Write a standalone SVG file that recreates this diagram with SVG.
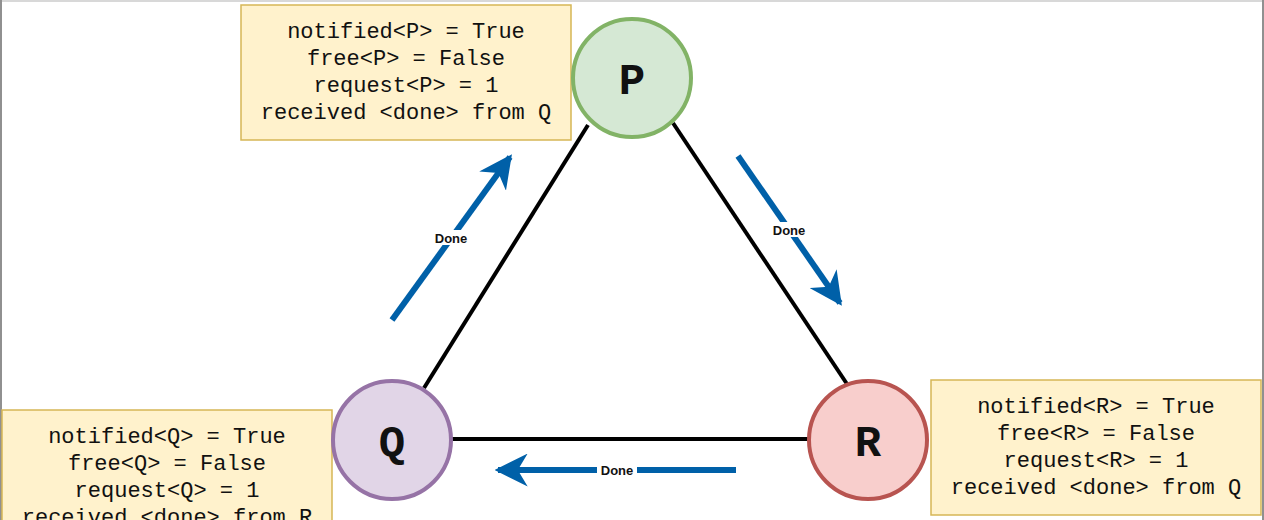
<svg xmlns="http://www.w3.org/2000/svg" width="1264" height="520" viewBox="0 0 1264 520">
<defs>
<style>
.box{fill:#fff2cc;stroke:#d6b656;stroke-width:1.5}
.bt{font-family:"Liberation Mono","Courier New",monospace;font-size:22px;fill:#111;text-anchor:middle}
.nl{font-family:"Liberation Mono","Courier New",monospace;font-size:44px;font-weight:bold;fill:#111;text-anchor:middle}
.edge{stroke:#000;stroke-width:4;fill:none}
.flow{stroke:#0060a8;stroke-width:6;fill:none}
.lbl{font-family:"Liberation Sans",Arial,sans-serif;font-size:13px;font-weight:bold;fill:#111;text-anchor:middle}
</style>
<marker id="ah" viewBox="0 0 10 10" refX="9" refY="5" markerWidth="5.5" markerHeight="5.5" markerUnits="strokeWidth" orient="auto">
<path d="M0,0 L10,5 L0,10 L3,5 Z" fill="#0060a8"/>
</marker>
</defs>
<rect x="0" y="0" width="1264" height="520" fill="#fff"/>
<line x1="0" y1="1" x2="1264" y2="1" stroke="#d8d8d8" stroke-width="2"/>
<line x1="1" y1="0" x2="1" y2="520" stroke="#909090" stroke-width="2"/>
<line x1="1263" y1="0" x2="1263" y2="520" stroke="#909090" stroke-width="2"/>

<g id="connectors">
<line class="edge" x1="588" y1="125" x2="424" y2="388"/>
<line class="edge" x1="673" y1="123" x2="847" y2="384"/>
<line class="edge" x1="452" y1="439" x2="808" y2="439"/>
<line class="flow" x1="392" y1="320" x2="510" y2="157" marker-end="url(#ah)"/>
<line class="flow" x1="738" y1="156" x2="840" y2="303" marker-end="url(#ah)"/>
<line class="flow" x1="736" y1="470" x2="498" y2="470" marker-end="url(#ah)"/>
<rect x="430" y="230" width="42" height="15" fill="#fff"/>
<text class="lbl" x="451" y="243">Done</text>
<rect x="768" y="222" width="42" height="15" fill="#fff"/>
<text class="lbl" x="789" y="235">Done</text>
<rect x="597" y="463" width="40" height="14" fill="#fff"/>
<text class="lbl" x="617" y="475">Done</text>
</g>

<g id="boxP">
<rect class="box" x="241" y="5" width="330" height="135"/>
<text class="bt" x="406" y="38">notified&lt;P&gt; = True</text>
<text class="bt" x="406" y="65">free&lt;P&gt; = False</text>
<text class="bt" x="406" y="92">request&lt;P&gt; = 1</text>
<text class="bt" x="406" y="119">received &lt;done&gt; from Q</text>
</g>
<g id="boxQ">
<rect class="box" x="2" y="410" width="330" height="135"/>
<text class="bt" x="167" y="443">notified&lt;Q&gt; = True</text>
<text class="bt" x="167" y="470">free&lt;Q&gt; = False</text>
<text class="bt" x="167" y="497">request&lt;Q&gt; = 1</text>
<text class="bt" x="167" y="524">received &lt;done&gt; from R</text>
</g>
<g id="boxR">
<rect class="box" x="931" y="380" width="330" height="135"/>
<text class="bt" x="1096" y="413">notified&lt;R&gt; = True</text>
<text class="bt" x="1096" y="440">free&lt;R&gt; = False</text>
<text class="bt" x="1096" y="467">request&lt;R&gt; = 1</text>
<text class="bt" x="1096" y="494">received &lt;done&gt; from Q</text>
</g>

<g id="nodeP">
<circle cx="632" cy="78" r="59" fill="#d5e8d4" stroke="#82b366" stroke-width="4"/>
<text class="nl" x="632" y="94">P</text>
</g>
<g id="nodeQ">
<circle cx="392" cy="440" r="59" fill="#e1d5e7" stroke="#9673a6" stroke-width="4"/>
<text class="nl" x="392" y="456">Q</text>
</g>
<g id="nodeR">
<circle cx="868" cy="440" r="59" fill="#f8cecc" stroke="#b85450" stroke-width="4"/>
<text class="nl" x="868" y="456">R</text>
</g>
</svg>
